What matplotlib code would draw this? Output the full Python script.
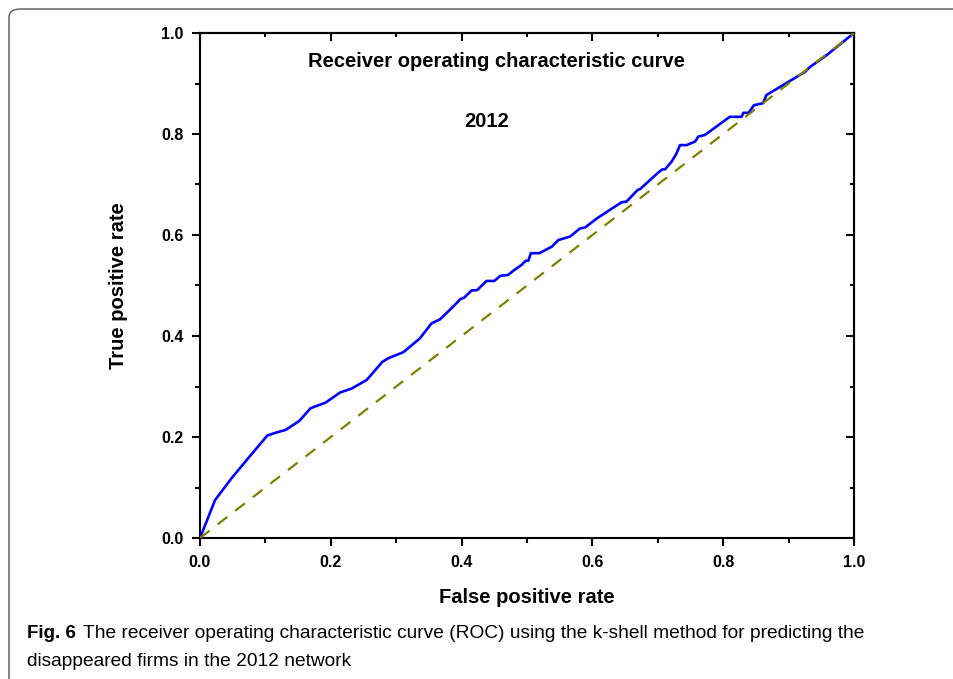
import matplotlib
matplotlib.use('Agg')
import matplotlib.pyplot as plt
from matplotlib.patches import FancyBboxPatch
from matplotlib.ticker import MultipleLocator

plt.rcParams['font.family'] = ['Liberation Sans', 'DejaVu Sans']

# ROC curve
fpr = [0, 0.023, 0.048, 0.075, 0.103, 0.117, 0.131, 0.152, 0.169, 0.192,
       0.214, 0.232, 0.255, 0.279, 0.288, 0.311, 0.336, 0.354, 0.367, 0.387,
       0.398, 0.404, 0.415, 0.424, 0.438, 0.45, 0.459, 0.471, 0.482, 0.492,
       0.498, 0.502, 0.506, 0.519, 0.538, 0.548, 0.566, 0.581, 0.589, 0.607,
       0.627, 0.645, 0.652, 0.669, 0.673, 0.701, 0.707, 0.711, 0.721, 0.728,
       0.734, 0.744, 0.757, 0.762, 0.772, 0.81, 0.828, 0.831, 0.839, 0.847,
       0.861, 0.866, 0.925, 0.933, 0.958, 1.0]
tpr = [0, 0.075, 0.118, 0.16, 0.203, 0.209, 0.214, 0.232, 0.257, 0.268,
       0.288, 0.296, 0.313, 0.349, 0.356, 0.368, 0.395, 0.425, 0.433, 0.458,
       0.473, 0.476, 0.490, 0.491, 0.509, 0.509, 0.519, 0.521, 0.532, 0.541,
       0.549, 0.549, 0.564, 0.564, 0.577, 0.590, 0.597, 0.613, 0.615, 0.633,
       0.650, 0.665, 0.666, 0.689, 0.691, 0.724, 0.730, 0.730, 0.745, 0.760,
       0.778, 0.778, 0.785, 0.795, 0.798, 0.834, 0.834, 0.842, 0.842, 0.857,
       0.861, 0.877, 0.923, 0.933, 0.956, 1.0]
chance = [0, 1]

fig = plt.figure(figsize=(9.54, 6.79), dpi=100)
ax = fig.add_axes([200/954, 1-538/679, 654/954, 505/679])

ax.plot(fpr, tpr, color='#0000ff', lw=1.9, zorder=3)
ax.plot(chance, chance, color='#808000', lw=1.6, dashes=(5.5, 4.5), zorder=4)

ax.set_xlim(0, 1)
ax.set_ylim(0, 1)
for s in ax.spines.values():
    s.set_linewidth(1.5)

ax.xaxis.set_major_locator(MultipleLocator(0.2))
ax.xaxis.set_minor_locator(MultipleLocator(0.1))
ax.yaxis.set_major_locator(MultipleLocator(0.2))
ax.yaxis.set_minor_locator(MultipleLocator(0.1))
ax.tick_params(which='major', direction='out', length=6, width=1.5, labelsize=11.5, pad=6)
ax.tick_params(which='minor', direction='out', length=3.5, width=1.5)
for lab in ax.get_xticklabels() + ax.get_yticklabels():
    lab.set_fontweight('bold')

# inward ticks on top and right
top = ax.secondary_xaxis('top')
top.xaxis.set_major_locator(MultipleLocator(0.2))
top.xaxis.set_minor_locator(MultipleLocator(0.1))
right = ax.secondary_yaxis('right')
right.yaxis.set_major_locator(MultipleLocator(0.2))
right.yaxis.set_minor_locator(MultipleLocator(0.1))
for sec in (top, right):
    sec.tick_params(which='major', direction='in', length=6, width=1.5, labelsize=0)
    sec.tick_params(which='minor', direction='in', length=3, width=1.5)
    for s in sec.spines.values():
        s.set_linewidth(1.5)
top.set_xticklabels([])
right.set_yticklabels([])

ax.set_xlabel('False positive rate', fontsize=14.5, fontweight='bold', labelpad=13)
ax.set_ylabel('True positive rate', fontsize=14.5, fontweight='bold', labelpad=24)

ax.text(0.454, 0.943, 'Receiver operating characteristic curve', fontsize=14.5,
        fontweight='bold', ha='center', va='center')
ax.text(0.439, 0.824, '2012', fontsize=14.5, fontweight='bold', ha='center', va='center')

# caption
fig.text(27/954, 1-633/679, 'Fig. 6', fontsize=13.5, fontweight='bold', va='center')
fig.text(83/954, 1-633/679,
         'The receiver operating characteristic curve (ROC) using the k-shell method for predicting the',
         fontsize=13.8, va='center')
fig.text(27/954, 1-661/679, 'disappeared firms in the 2012 network',
         fontsize=13.8, va='center')

# frame around figure
frame = FancyBboxPatch((9/954, -0.1), 1.2, 1.1 - 9/679,
                       boxstyle='round,pad=0,rounding_size=0.012',
                       transform=fig.transFigure, fill=False,
                       edgecolor='#555555', lw=1.0)
fig.patches.append(frame)

fig.savefig('out.png', dpi=100, facecolor='w')
